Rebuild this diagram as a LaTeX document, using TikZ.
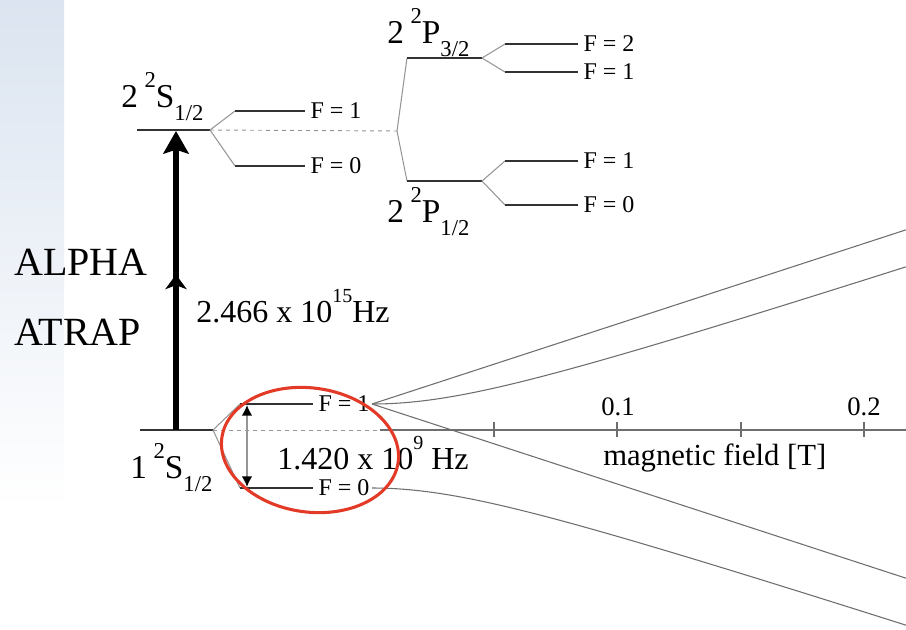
\documentclass[tikz,border=0pt]{standalone}
\usepackage{fontspec}
\setmainfont{Liberation Serif}
\usetikzlibrary{arrows.meta}
\usetikzlibrary{decorations.markings}
\usetikzlibrary{positioning}

\definecolor{stripblue}{RGB}{219,228,240}
\definecolor{levelgray}{RGB}{50,50,50}
\definecolor{splitgray}{RGB}{150,150,150}
\definecolor{curvegray}{RGB}{110,110,110}
\definecolor{ringred}{RGB}{226,58,38}

\newcommand{\termsym}[3]{#1\hspace{0.2em}\raisebox{0.6em}{\fontsize{17}{17}\selectfont 2}#2\raisebox{-0.4em}{\fontsize{17}{17}\selectfont #3}}
\newcommand{\hiexp}[1]{\raisebox{0.62em}{\fontsize{15}{15}\selectfont #1}}

\begin{document}
\begin{tikzpicture}[x=0.75pt, y=-0.75pt,
        level/.style={levelgray, line width=1.1pt},
        split/.style={splitgray, line width=0.8pt},
        flab/.style={anchor=west, inner sep=0pt, font=\fontsize{18}{18}\selectfont},
        term/.style={anchor=base west, inner sep=0pt, font=\fontsize{25}{25}\selectfont},
        big/.style={anchor=base west, inner sep=0pt, font=\fontsize{24}{24}\selectfont},
        bfield/.style={curvegray, line width=0.8pt, smooth, samples=120, domain=372:906, variable=\t}]
            \useasboundingbox (0,0) rectangle (906,629);
            \shade[top color=stripblue, bottom color=white] (0,0) rectangle (64,510);

            % 2S1/2
            \coordinate (s2a) at (137,130);
            \coordinate (s2b) at (210,130);
            \coordinate (s2u) at (235,111);
            \coordinate (s2d) at (235,166);
            \coordinate (s2ue) at (305,111);
            \coordinate (s2de) at (305,166);
            \coordinate (pfork) at (397,131);
            \draw[level] (s2a) -- (s2b);
            \draw[split] (s2b) -- (s2u);
            \draw[split] (s2b) -- (s2d);
            \draw[level] (s2u) -- (s2ue);
            \draw[level] (s2d) -- (s2de);
            \draw[splitgray, dashed, line width=0.7pt] (s2b) -- (pfork);
            \node[flab] (s2f1) at ([xshift=4]s2ue) {F = 1};
            \node[flab] (s2f0) at ([xshift=4]s2de) {F = 0};
            \node[term] (s2lab) at (121,107) {\termsym{2}{S}{1/2}};

            % 2P3/2 and 2P1/2
            \coordinate (p3a) at (407,58);
            \coordinate (p3b) at (482,58);
            \coordinate (p3u) at (505,44);
            \coordinate (p3d) at (505,72);
            \coordinate (p3ue) at (578,44);
            \coordinate (p3de) at (578,72);
            \coordinate (p1a) at (407,181);
            \coordinate (p1b) at (482,181);
            \coordinate (p1u) at (505,161);
            \coordinate (p1d) at (505,205);
            \coordinate (p1ue) at (578,161);
            \coordinate (p1de) at (578,205);
            \draw[split] (pfork) -- (p3a);
            \draw[split] (pfork) -- (p1a);
            \draw[level] (p3a) -- (p3b);
            \draw[level] (p1a) -- (p1b);
            \draw[split] (p3b) -- (p3u);
            \draw[split] (p3b) -- (p3d);
            \draw[split] (p1b) -- (p1u);
            \draw[split] (p1b) -- (p1d);
            \draw[level] (p3u) -- (p3ue);
            \draw[level] (p3d) -- (p3de);
            \draw[level] (p1u) -- (p1ue);
            \draw[level] (p1d) -- (p1de);
            \node[flab] (p3f2) at ([xshift=4]p3ue) {F = 2};
            \node[flab] (p3f1) at ([xshift=4]p3de) {F = 1};
            \node[flab] (p1f1) at ([xshift=4]p1ue) {F = 1};
            \node[flab] (p1f0) at ([xshift=4]p1de) {F = 0};
            \node[term] (p3lab) at (387,43) {\termsym{2}{P}{3/2}};
            \node[term] (p1lab) at (387,222) {\termsym{2}{P}{1/2}};

            % 1S1/2
            \coordinate (s1a) at (140,430);
            \coordinate (s1b) at (213,430);
            \coordinate (s1u) at (240,404);
            \coordinate (s1d) at (240,488);
            \coordinate (s1ue) at (313,404);
            \coordinate (s1de) at (313,488);
            \coordinate (axa) at (380,430);
            \coordinate (axb) at (906,430);
            \draw[level] (s1a) -- (s1b);
            \draw[split] (s1b) -- (s1u);
            \draw[split] (s1b) -- (s1d);
            \draw[level] (s1u) -- (s1ue);
            \draw[level] (s1d) -- (s1de);
            \draw[splitgray, dashed, line width=0.7pt] (s1b) -- (axa);
            \draw[curvegray, line width=0.8pt] (axa) -- (axb);
            \foreach \tx in {494,617,741,864}
                \draw[curvegray, line width=0.8pt] (\tx,422) -- (\tx,437);
            \node[flab] (s1f1) at ([xshift=4]s1ue) {F = 1};
            \node[flab] (s1f0) at ([xshift=4]s1de) {F = 0};
            \node[term] (s1lab) at (130,478) {\termsym{1}{S}{1/2}};

            \node[anchor=base, inner sep=0pt, font=\fontsize{20}{20}\selectfont] (t01) at (618,415) {0.1};
            \node[anchor=base, inner sep=0pt, font=\fontsize{20}{20}\selectfont] (t02) at (864,415) {0.2};
            \node[anchor=base west, inner sep=0pt, font=\fontsize{23}{23}\selectfont] (axlab) at (603,465) {magnetic field [T]};

            \draw[bfield] plot ({\t}, {404-42*0.00776*(\t-372)});
            \draw[bfield] plot ({\t}, {446-42*sqrt(1+(0.00776*(\t-372))^2)});
            \draw[bfield] plot ({\t}, {404+42*0.00776*(\t-372)});
            \draw[bfield] plot ({\t}, {446+42*sqrt(1+(0.00776*(\t-372))^2)});

            % transitions
            \coordinate (opta) at (176,430);
            \coordinate (optb) at (176,131);
            \draw[line width=4pt, -{Stealth[length=17pt, width=19pt, inset=3pt]},
                postaction={decorate},
                decoration={markings, mark=at position 0.52 with {\arrow{Stealth[length=11pt, width=16pt, inset=3pt]}}}]
                (opta) -- (optb);
            \node[big] (optlab) at (196,322) {2.466 x 10\hiexp{15}Hz};
            \node[anchor=base west, inner sep=0pt, font=\fontsize{30}{30}\selectfont] (alpha) at (14,275) {ALPHA};
            \node[anchor=base west, inner sep=0pt, font=\fontsize{30}{30}\selectfont] (atrap) at (14,345) {ATRAP};

            \draw[splitgray, line width=1.2pt, {Latex[length=8pt, width=8pt, color=black]}-{Latex[length=8pt, width=8pt, color=black]}]
                (247,405) -- (247,487);
            \node[big] (hfslab) at (277,469) {1.420 x 10\hiexp{9} Hz};

            \draw[ringred, line width=2.3pt, rotate around={-8:(310,450)}] (310,450) ellipse [x radius=89, y radius=62];
        \end{tikzpicture}
\end{document}
